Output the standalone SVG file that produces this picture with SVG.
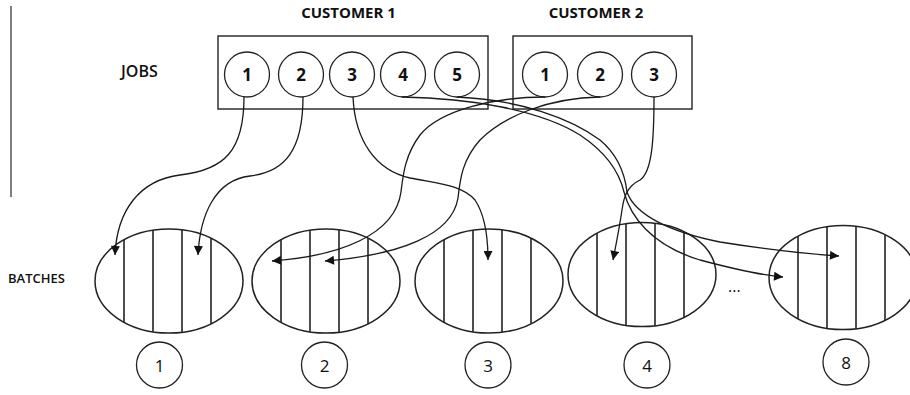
<svg xmlns="http://www.w3.org/2000/svg" xmlns:xlink="http://www.w3.org/1999/xlink" width="910" height="395" viewBox="0 0 910 395">
  <style>
    .frame { fill: none; stroke: #222; stroke-width: 1.4; }
    .job { fill: #fff; stroke: #222; stroke-width: 1.3; }
    .batch { fill: #fff; stroke: #222; stroke-width: 1.5; }
    .slot { stroke: #222; stroke-width: 1.6; }
    .link { fill: none; stroke: #1a1a1a; stroke-width: 1.3; marker-end: url(#head); }
    .title { font-family: "Open Sans", "Liberation Sans", sans-serif; font-weight: 700; font-size: 15px; fill: #111; text-anchor: middle; }
    .label { font-family: "Open Sans", "Liberation Sans", sans-serif; fill: #111; }
    .num { font-family: "Open Sans", "Liberation Sans", sans-serif; font-weight: 700; font-size: 17px; fill: #111; text-anchor: middle; }
    .bnum { font-family: "Open Sans", "Liberation Sans", sans-serif; font-size: 17px; fill: #111; text-anchor: middle; }
  </style>
  <defs>
    <marker id="head" viewBox="0 0 10 10" refX="10" refY="5" markerWidth="10" markerHeight="9" markerUnits="userSpaceOnUse" orient="auto">
      <path d="M0,0 L10,5 L0,10 z" fill="#111"/>
    </marker>
    <!-- batch: ellipse split by four vertical slots, centred on the origin -->
    <g id="batch-shape">
      <ellipse class="batch" cx="0" cy="0" rx="74" ry="52"/>
      <line class="slot" x1="-45" y1="-41.3" x2="-45" y2="41.3"/>
      <line class="slot" x1="-16" y1="-50.8" x2="-16" y2="50.8"/>
      <line class="slot" x1="13" y1="-51.2" x2="13" y2="51.2"/>
      <line class="slot" x1="42" y1="-42.8" x2="42" y2="42.8"/>
    </g>
  </defs>

  <rect width="910" height="395" fill="#fff"/>

  <!-- left rule -->
  <line x1="11" y1="6" x2="11" y2="197" stroke="#555" stroke-width="1.5"/>

  <!-- row labels -->
  <text class="label" x="121" y="77" font-size="16" font-weight="600">JOBS</text>
  <text class="label" x="8" y="283" font-size="13" font-weight="600">BATCHES</text>

  <!-- customer 1 -->
  <g id="customer1">
    <text class="title" x="348.5" y="18">CUSTOMER 1</text>
    <rect class="frame" x="218" y="36" width="270" height="73"/>
  </g>
  <g id="c1-job1"><circle class="job" cx="247" cy="74.5" r="22.5"/><text class="num" x="247" y="81">1</text></g>
  <g id="c1-job2"><circle class="job" cx="301" cy="74.5" r="22.5"/><text class="num" x="301" y="81">2</text></g>
  <g id="c1-job3"><circle class="job" cx="352" cy="74.5" r="22.5"/><text class="num" x="352" y="81">3</text></g>
  <g id="c1-job4"><circle class="job" cx="403" cy="74.5" r="22.5"/><text class="num" x="403" y="81">4</text></g>
  <g id="c1-job5"><circle class="job" cx="457" cy="74.5" r="22.5"/><text class="num" x="457" y="81">5</text></g>

  <!-- customer 2 -->
  <g id="customer2">
    <text class="title" x="596" y="18">CUSTOMER 2</text>
    <rect class="frame" x="513" y="36" width="179" height="73"/>
  </g>
  <g id="c2-job1"><circle class="job" cx="545" cy="74.5" r="22.5"/><text class="num" x="545" y="81">1</text></g>
  <g id="c2-job2"><circle class="job" cx="600" cy="74.5" r="22.5"/><text class="num" x="600" y="81">2</text></g>
  <g id="c2-job3"><circle class="job" cx="654" cy="74.5" r="22.5"/><text class="num" x="654" y="81">3</text></g>

  <!-- batches -->
  <g id="batch1">
    <use xlink:href="#batch-shape" href="#batch-shape" transform="translate(169,281)"/>
    <circle class="job" cx="159.5" cy="365" r="23"/><text class="bnum" x="159.5" y="371.5">1</text>
  </g>
  <g id="batch2">
    <use xlink:href="#batch-shape" href="#batch-shape" transform="translate(326,281)"/>
    <circle class="job" cx="324.5" cy="365" r="23"/><text class="bnum" x="324.5" y="371.5">2</text>
  </g>
  <g id="batch3">
    <use xlink:href="#batch-shape" href="#batch-shape" transform="translate(489,281)"/>
    <circle class="job" cx="488" cy="365" r="23"/><text class="bnum" x="488" y="371.5">3</text>
  </g>
  <g id="batch4">
    <use xlink:href="#batch-shape" href="#batch-shape" transform="translate(642,274.5)"/>
    <circle class="job" cx="647" cy="365" r="23"/><text class="bnum" x="647" y="371.5">4</text>
  </g>
  <g id="ellipsis">
    <text class="label" x="728" y="292" font-size="16">...</text>
  </g>
  <g id="batch8">
    <use xlink:href="#batch-shape" href="#batch-shape" transform="translate(843,277.5)"/>
    <circle class="job" cx="846" cy="362" r="23"/><text class="bnum" x="846" y="368.5">8</text>
  </g>

  <!-- job-to-batch assignments -->
  <g id="connectors">
    <path class="link" d="M244,97 C244,150 225,170 180,175 C140,180 117,210 115,255"/>
    <path class="link" d="M303,97 C303,150 285,172 250,176 C215,180 200,215 198,255"/>
    <path class="link" d="M353,97 C355,140 375,170 410,178 C440,184 462,185 475,200 C485,215 488,240 488,260"/>
    <path class="link" d="M402,97 C470,98 540,110 580,135 C610,155 620,175 624,192 C630,215 650,245 700,260 C730,268 760,275 783,277"/>
    <path class="link" d="M457,97 C520,100 570,118 600,140 C618,155 625,175 627,192 C635,215 670,232 720,242 C770,250 810,254 839,256"/>
    <path class="link" d="M545,97 C495,97 440,110 420,135 C405,155 403,175 401,192 C395,235 340,256 272,261"/>
    <path class="link" d="M600,97 C550,98 505,115 480,140 C462,160 460,180 458,198 C452,235 400,255 325,261"/>
    <path class="link" d="M654,97 C654,140 652,172 640,180 C628,186 624,195 622,210 C619,230 616,245 613,260"/>
  </g>
</svg>
